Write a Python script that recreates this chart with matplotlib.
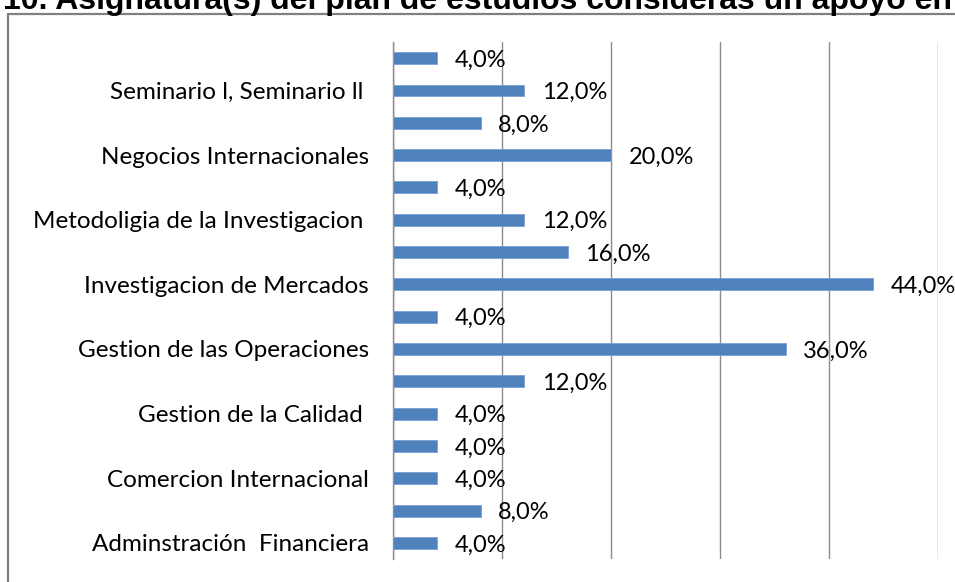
import matplotlib
matplotlib.use("Agg")
import matplotlib.pyplot as plt
import matplotlib.patches as mpatches

# datos (de abajo hacia arriba)
materias = ['Adminstración  Financiera', '', 'Comercion Internacional', '',
            'Gestion de la Calidad ', '', 'Gestion de las Operaciones', '',
            'Investigacion de Mercados', '', 'Metodoligia de la Investigacion ', '',
            'Negocios Internacionales', '', 'Seminario l, Seminario ll ', '']
porcentajes = [4, 8, 4, 4, 4, 12, 36, 4, 44, 16, 12, 4, 20, 8, 12, 4]
titulo = '10. Asignatura(s) del plan de estudios consideras un apoyo en'

fig = plt.figure(figsize=(9.55, 5.82), dpi=100)
ax = fig.add_axes([0.412, 0.0395, 0.5707, 0.8883])

pos = list(range(len(materias)))
ax.barh(pos, porcentajes, height=0.37, color='#4F81BD', edgecolor='#7aa0d4', linewidth=0.6, zorder=3)

for p, v in zip(pos, porcentajes):
    etiqueta = f"{v:.1f}%".replace('.', ',')
    ax.annotate(etiqueta, (v, p), xytext=(12.5, -1.5), textcoords='offset points',
                ha='left', va='center', fontsize=17, family='Lato', color='black', zorder=4)

ax.set_xlim(0, 50)
ax.set_ylim(-0.5, len(materias) - 0.5)
ax.set_xticks([0, 10, 20, 30, 40, 50])
ax.set_xticklabels([])
ax.set_yticks(pos)
ax.set_yticklabels(materias, fontsize=17.5, family='Lato')
ax.tick_params(axis='both', length=0)
ax.tick_params(axis='y', pad=17.5)
ax.grid(axis='x', color='#8c8c8c', linewidth=1.0, zorder=0)
for s in ['top', 'right', 'bottom']:
    ax.spines[s].set_visible(False)
ax.spines['left'].set_color('#8c8c8c')
ax.spines['left'].set_linewidth(1.0)

# marco del grafico
marco = mpatches.Rectangle((8 / 955, -0.1), 1.2, 1.1 - 14 / 582, transform=fig.transFigure,
                           fill=False, edgecolor='#808080', linewidth=1.6, clip_on=False)
fig.patches.append(marco)

fig.text(952 / 955, 1 - 9 / 582, titulo, ha='right', va='baseline',
         fontsize=23, fontweight='bold', family='Liberation Sans')

fig.savefig('out.png', dpi=100)
